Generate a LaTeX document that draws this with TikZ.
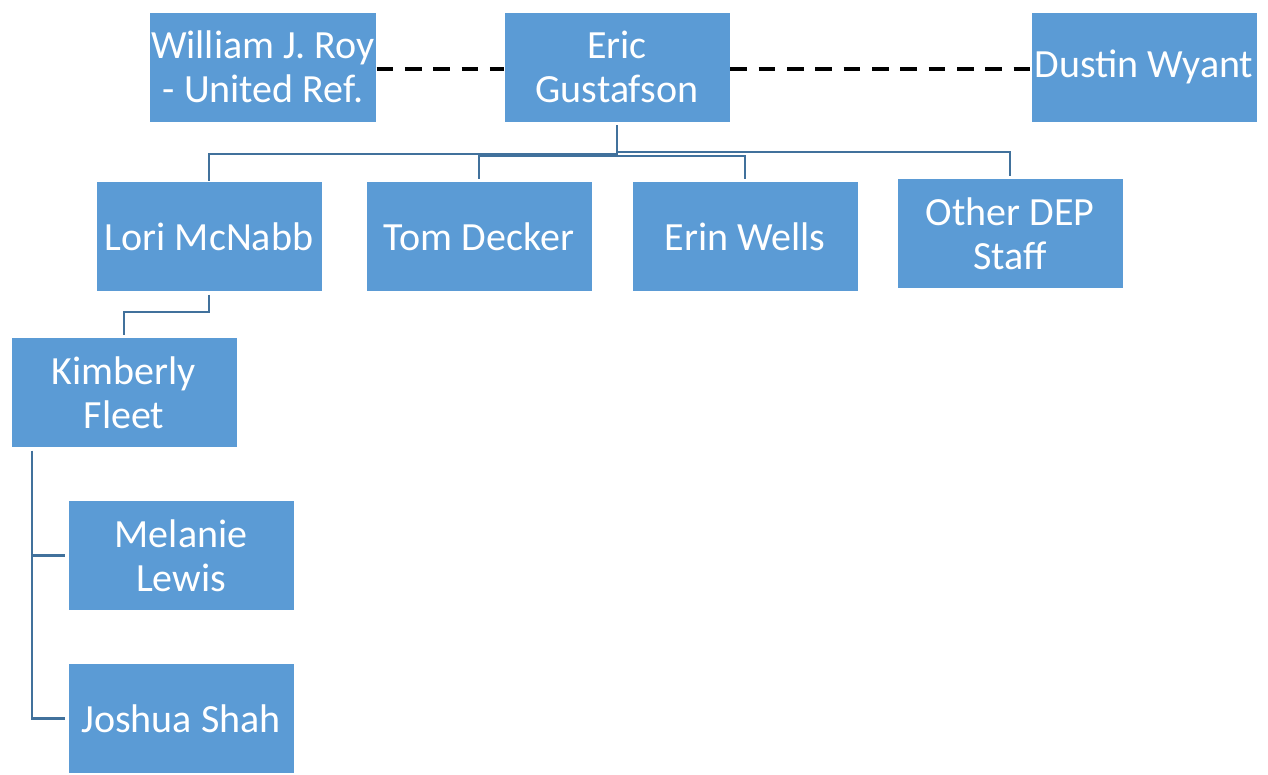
\documentclass[tikz,border=0pt]{standalone}
\usepackage{fontspec}
\setmainfont{Carlito}
\usepackage{tikz}
\usetikzlibrary{positioning}

\definecolor{boxblue}{RGB}{91,155,213}
\definecolor{linkblue}{RGB}{65,113,156}

\tikzset{
  person/.style={fill=boxblue, draw=white, line width=0.5pt, text=white,
    minimum width=169.5pt, minimum height=82.5pt, inner sep=1pt,
    align=center, font=\fontsize{30}{33}\selectfont},
  link/.style={draw=linkblue, line width=1.7pt, shorten >=2pt, shorten <=2pt},
  peer/.style={draw=black, line width=3pt, dash pattern=on 12.5pt off 8.75pt}
}

\begin{document}
\begin{tikzpicture}[x=0.75pt,y=0.75pt,yscale=-1,xscale=1]
\useasboundingbox (0,0) rectangle (1268,775);

%Shape: top row
\node[person] (roy) at (263,67) {William J. Roy\\- United Ref.};
\node[person] (eric) at (617,67) {Eric\\Gustafson};
\node[person] (dustin) at (1144,67) {Dustin Wyant};

%Shape: second row
\node[person] (lori) at (209,236.5) {Lori McNabb};
\node[person] (tom) at (479,236.5) {Tom Decker};
\node[person] (erin) at (745,236.5) {Erin Wells};
\node[person] (other) at (1010,233.5) {Other DEP\\Staff};

%Shape: lower boxes
\node[person] (kim) at (124,392.5) {Kimberly\\Fleet};
\node[person] (mel) at (181,555.5) {Melanie\\Lewis};
\node[person] (josh) at (181,718.5) {Joshua Shah};

%Straight Lines: dashed peers
\draw[peer] ([yshift=1.5pt]roy.east) -- ([yshift=1.5pt]eric.west);
\draw[peer] ([yshift=1.5pt]eric.east) -- ([yshift=1.5pt]dustin.west);

%Straight Lines: tree
\coordinate (busL) at (617,154);
\coordinate (busM) at (617,156);
\coordinate (busR) at (617,152);
\draw[link, shorten >=0pt] (eric.south) -- (busL) -| (lori.north);
\draw[link, shorten <=0pt] (busR) -| (other.north);
\draw[link, shorten <=2pt, shorten >=2pt] (tom.north) |- (busM) -| (erin.north);
\draw[link] (lori.south) -- ++(0,20) -| (kim.north);

\coordinate (spine) at (32,448);
\draw[link, shorten >=2pt] (spine) |- (josh.west);
\draw[link, shorten <=0pt] (mel.west -| spine) -- (mel.west);

\end{tikzpicture}
\end{document}
